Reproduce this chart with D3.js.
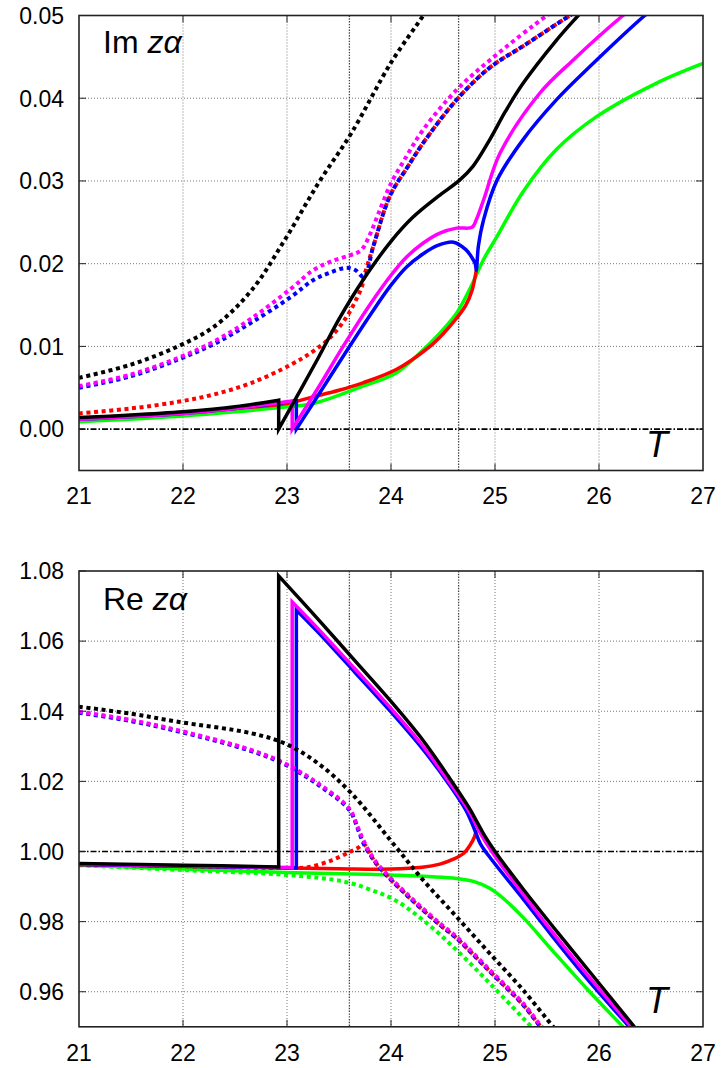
<!DOCTYPE html>
<html><head><meta charset="utf-8">
<script src="https://cdn.jsdelivr.net/npm/d3@7"></script>
<style>body{margin:0;background:#fff}svg{display:block}</style>
</head><body><svg id="c" width="722" height="1068"></svg>
<script>
// ---------- tick labels ----------
const xTicks = [21, 22, 23, 24, 25, 26, 27];
const imTicks = [0.00, 0.01, 0.02, 0.03, 0.04, 0.05];
const reTicks = [0.96, 0.98, 1.00, 1.02, 1.04, 1.06, 1.08];
const markerT = [23.6, 24.65];

// ---------- Im z alpha  ([T, value]) ----------
const imBlackSolid = [[21,0.0014],[21.5,0.0017],[22,0.0021],[22.5,0.0027],[22.92,0.0035],[22.92,0.0000],[23.3,0.0086],[23.5,0.0133],[23.73,0.0180],[24.0,0.0227],[24.21,0.0256],[24.45,0.0281],[24.66,0.0301],[24.79,0.0318],[24.95,0.0350],[25.1,0.0384],[25.27,0.0418],[25.59,0.0470],[25.80,0.0500],[25.9,0.0514]];
const imMagentaSolid = [[21,0.0012],[22,0.0019],[22.5,0.0025],[23.05,0.0034],[23.05,0.0000],[23.3,0.0050],[23.54,0.0100],[23.8,0.0151],[24.0,0.0186],[24.15,0.0208],[24.31,0.0225],[24.47,0.0237],[24.63,0.0243],[24.78,0.0244],[24.82,0.0253],[24.89,0.0277],[25.05,0.0334],[25.43,0.0406],[25.75,0.0446],[26.23,0.0500],[26.35,0.0512]];
const imBlueSolid = [[21,0.0012],[22,0.0019],[22.5,0.0025],[23.09,0.0034],[23.09,0.0000],[23.3,0.0041],[23.54,0.0088],[23.8,0.0138],[24.0,0.0174],[24.15,0.0196],[24.31,0.0212],[24.45,0.0222],[24.6,0.0226],[24.72,0.0217],[24.78,0.0207],[24.81,0.0200],[24.82,0.0192],[24.84,0.0221],[24.89,0.0253],[25.02,0.0301],[25.27,0.0350],[25.59,0.0398],[25.91,0.0438],[26.44,0.0500],[26.55,0.0511]];
const imRedSolid = [[21,0.0013],[22,0.0020],[22.5,0.0025],[23.0,0.0031],[23.25,0.0039],[23.5,0.0047],[23.73,0.0056],[24.05,0.0072],[24.375,0.0100],[24.5,0.0115],[24.63,0.0134],[24.72,0.0150],[24.78,0.0168],[24.82,0.0192]];
const imGreenSolid = [[21,0.0009],[22,0.0016],[22.5,0.0021],[23.0,0.0027],[23.25,0.0031],[23.73,0.0052],[24.05,0.0068],[24.31,0.0096],[24.47,0.0116],[24.63,0.0140],[24.76,0.0170],[24.89,0.0205],[25.02,0.0233],[25.27,0.0287],[25.59,0.0338],[25.98,0.0378],[26.55,0.0418],[27.0,0.0442]];
const imBlackDot = [[21,0.0062],[21.5,0.0078],[21.95,0.0100],[22.3,0.0124],[22.66,0.0168],[22.98,0.0229],[23.3,0.0297],[23.62,0.0358],[24.0,0.0443],[24.31,0.0500],[24.36,0.0510]];
const imMagentaDot = [[21,0.0052],[21.5,0.0066],[21.95,0.0086],[22.3,0.0106],[22.66,0.0134],[23.04,0.0170],[23.25,0.0192],[23.43,0.0203],[23.6,0.0210],[23.71,0.0216],[23.8,0.0236],[23.88,0.0261],[24.0,0.0297],[24.15,0.0330],[24.31,0.0362],[24.63,0.0410],[24.95,0.0446],[25.5,0.0500],[25.6,0.0508]];
const imBlueDot = [[21,0.0050],[21.5,0.0064],[21.95,0.0084],[22.3,0.0103],[22.66,0.0129],[23.04,0.0160],[23.25,0.0180],[23.41,0.0189],[23.57,0.0195],[23.66,0.0192],[23.74,0.0184],[23.83,0.0221],[23.99,0.0282],[24.15,0.0315],[24.31,0.0346],[24.63,0.0398],[24.95,0.0437],[25.27,0.0463],[25.72,0.0500],[25.8,0.0506]];
const imRedDot = [[21,0.0019],[21.5,0.0025],[21.95,0.0033],[22.3,0.0042],[22.66,0.0056],[23.04,0.0078],[23.25,0.0094],[23.41,0.0110],[23.57,0.0135],[23.67,0.0158],[23.72,0.0172],[23.74,0.0184],[23.83,0.0221],[23.99,0.0282],[24.15,0.0315],[24.31,0.0346],[24.63,0.0398],[24.95,0.0437],[25.27,0.0463],[25.72,0.0500],[25.8,0.0506]];

// ---------- Re z alpha ([T, value]) ----------
const reBlackSolid = [[21,0.9966],[22,0.9961],[22.92,0.9956],[22.92,1.0786],[23.3,1.0662],[23.65,1.0545],[24.0,1.0428],[24.3,1.0320],[24.55,1.0215],[24.75,1.0125],[24.9,1.0045],[25.0,1.0000],[25.27,0.9893],[25.6,0.9770],[25.91,0.9657],[26.34,0.9500],[26.4,0.9478]];
const reMagentaSolid = [[21,0.9964],[22,0.9959],[23.05,0.9954],[23.05,1.0712],[23.3,1.0635],[23.65,1.0522],[24.0,1.0408],[24.3,1.0303],[24.55,1.0202],[24.75,1.0115],[24.86,1.0052],[24.98,0.9995],[25.27,0.9878],[25.6,0.9752],[25.91,0.9640],[26.31,0.9500],[26.37,0.9478]];
const reBlueSolid = [[21,0.9963],[22,0.9958],[23.09,0.9953],[23.09,1.0689],[23.3,1.0625],[23.65,1.0512],[24.0,1.0398],[24.3,1.0294],[24.55,1.0195],[24.72,1.0118],[24.8,1.0065],[24.86,1.0022],[24.98,0.9972],[25.27,0.9865],[25.6,0.9740],[25.91,0.9628],[26.29,0.9500],[26.35,0.9478]];
const reRedSolid = [[21,0.9963],[22,0.9958],[23,0.9953],[23.5,0.9951],[24,0.9950],[24.3,0.9955],[24.47,0.9964],[24.6,0.9978],[24.7,0.9995],[24.76,1.0018],[24.8,1.0040],[24.82,1.0060]];
const reGreenSolid = [[21,0.9961],[22,0.9950],[23,0.9940],[24,0.9933],[24.63,0.9923],[24.8,0.9914],[24.95,0.9895],[25.1,0.9861],[25.27,0.9812],[25.59,0.9705],[25.91,0.9600],[26.23,0.9500],[26.3,0.9478]];
const reBlackDot = [[21,1.0413],[21.5,1.0393],[21.95,1.0370],[22.66,1.0337],[22.98,1.0308],[23.30,1.0251],[23.62,1.0166],[24.0,1.0030],[24.31,0.9918],[24.63,0.9814],[24.95,0.9709],[25.27,0.9605],[25.56,0.9500],[25.62,0.9480]];
const reMagentaDot = [[21,1.0399],[21.5,1.0375],[21.95,1.0346],[22.66,1.0289],[22.98,1.0251],[23.30,1.0194],[23.6,1.0122],[23.68,1.0070],[23.73,1.0035],[23.8,0.9995],[23.89,0.9958],[24.15,0.9880],[24.47,0.9795],[24.63,0.9757],[24.95,0.9662],[25.27,0.9567],[25.45,0.9500],[25.5,0.9485]];
const reBlueDot = [[21,1.0396],[21.5,1.0372],[21.95,1.0343],[22.66,1.0286],[22.98,1.0248],[23.30,1.0190],[23.6,1.0118],[23.68,1.0065],[23.74,1.0020],[23.8,0.9991],[23.89,0.9954],[24.15,0.9876],[24.47,0.9791],[24.63,0.9753],[24.95,0.9658],[25.27,0.9563],[25.44,0.9500],[25.5,0.9482]];
const reRedDot = [[21,0.9963],[22,0.9958],[23,0.9953],[23.2,0.9955],[23.43,0.9975],[23.6,0.9998],[23.68,1.0010],[23.74,1.0020],[23.8,0.9991],[23.89,0.9954],[24.15,0.9876],[24.47,0.9791],[24.63,0.9753],[24.95,0.9658],[25.27,0.9563],[25.44,0.9500],[25.5,0.9482]];
const reGreenDot = [[21,0.9961],[22,0.9947],[23,0.9933],[23.55,0.9914],[23.81,0.9890],[24.04,0.9861],[24.31,0.9804],[24.63,0.9719],[24.95,0.9624],[25.35,0.9500],[25.4,0.9485]];

const COL = {black:"#000000", magenta:"#ff00ff", blue:"#0000ff", red:"#ff0000", green:"#00ff00"};

const svg = d3.select("#c");
const FONT = "'Liberation Sans', Arial, Helvetica, sans-serif";

function panel(cfg){
  const x = d3.scaleLinear().domain([21,27]).range([79,703]);
  const y = d3.scaleLinear().domain(cfg.ydom).range(cfg.yrange);
  const g = svg.append("g");
  const [x0,x1] = x.range();
  const yb = y.range()[0], yt = y.range()[1];
  const clipId = "clip"+cfg.id;
  svg.append("clipPath").attr("id",clipId).append("rect")
     .attr("x",x0).attr("y",yt).attr("width",x1-x0).attr("height",yb-yt);

  // grid
  const grid = g.append("g").attr("stroke","#777").attr("stroke-width",1).attr("stroke-dasharray","1,2");
  xTicks.slice(1,-1).forEach(t=>{
    grid.append("line").attr("x1",x(t)).attr("x2",x(t)).attr("y1",yt).attr("y2",yb);
  });
  cfg.yticks.forEach(t=>{
    if (Math.abs(t-cfg.zero)<1e-9) return;
    if (y(t) <= yt+1 || y(t) >= yb-1) return;
    grid.append("line").attr("x1",x0).attr("x2",x1).attr("y1",y(t)).attr("y2",y(t));
  });
  // marker lines
  const mk = g.append("g").attr("stroke","#444").attr("stroke-width",1.3).attr("stroke-dasharray","1.4,1.4");
  markerT.forEach(t=>{
    mk.append("line").attr("x1",x(t)).attr("x2",x(t)).attr("y1",yt).attr("y2",yb);
  });
  // zero/unit reference (dash-dot)
  g.append("line").attr("x1",x0).attr("x2",x1).attr("y1",y(cfg.zero)).attr("y2",y(cfg.zero))
    .attr("stroke","#000").attr("stroke-width",1.6).attr("stroke-dasharray","6,2,1.5,2");

  // series: smooth pieces, straight vertical jumps
  const smooth = d3.line().x(d=>x(d[0])).y(d=>y(d[1])).curve(d3.curveCatmullRom.alpha(0.5));
  function pathFor(data){
    const pieces = [[data[0]]];
    for (let i=1;i<data.length;i++){
      if (data[i][0] === data[i-1][0]) pieces.push([data[i]]);
      else pieces[pieces.length-1].push(data[i]);
    }
    let d = "";
    pieces.forEach((p,k)=>{
      let s = smooth(p.length>1 ? p : [p[0],p[0]]);
      if (k>0) s = "L" + s.slice(1);
      d += s;
    });
    return d;
  }
  const sg = g.append("g").attr("clip-path",`url(#${clipId})`);
  cfg.series.forEach(s=>{
    sg.append("path").attr("d",pathFor(s.data)).attr("fill","none")
      .attr("stroke",COL[s.color])
      .attr("stroke-width", s.dot ? 4 : 3.5)
      .attr("stroke-dasharray", s.dot ? "4,3.6" : null)
      .attr("stroke-linejoin","miter").attr("stroke-miterlimit",4);
  });

  // ticks (inward, mirrored)
  const tk = g.append("g").attr("stroke","#222").attr("stroke-width",1);
  xTicks.slice(1,-1).forEach(t=>{
    tk.append("line").attr("x1",x(t)).attr("x2",x(t)).attr("y1",yb).attr("y2",yb-7);
    tk.append("line").attr("x1",x(t)).attr("x2",x(t)).attr("y1",yt).attr("y2",yt+7);
  });
  cfg.yticks.forEach(t=>{
    tk.append("line").attr("x1",x0).attr("x2",x0+7).attr("y1",y(t)).attr("y2",y(t));
    tk.append("line").attr("x1",x1).attr("x2",x1-7).attr("y1",y(t)).attr("y2",y(t));
  });
  // border
  g.append("rect").attr("x",x0).attr("y",yt).attr("width",x1-x0).attr("height",yb-yt)
    .attr("fill","none").attr("stroke","#222").attr("stroke-width",1.6);

  // tick labels
  const lab = g.append("g").attr("font-family",FONT).attr("font-size",23).attr("fill","#000");
  xTicks.forEach(t=>{
    lab.append("text").attr("x",x(t)).attr("y",cfg.xlabY).attr("text-anchor","middle").text(t);
  });
  cfg.yticks.forEach(t=>{
    lab.append("text").attr("x",64).attr("y",y(t)).attr("dy","0.36em").attr("text-anchor","end")
      .text(t.toFixed(2));
  });

  // title
  const tt = g.append("text").attr("x",103).attr("y",cfg.titleY).attr("font-family",FONT)
     .attr("font-size",32).attr("fill","#000");
  tt.append("tspan").text(cfg.title+" ");
  tt.append("tspan").attr("font-style","italic").text("zα");
  // T label
  g.append("text").attr("x",657).attr("y",cfg.TY).attr("text-anchor","middle")
    .attr("font-family",FONT).attr("font-size",36).attr("font-style","italic").text("T");
}

panel({
  id:"im", ydom:[-0.005,0.05], yrange:[470.5,15.5], yticks:imTicks, zero:0,
  xlabY:504, titleY:53, TY:457, title:"Im",
  series:[
    {data:imGreenSolid,color:"green"},
    {data:imRedDot,color:"red",dot:true},
    {data:imRedSolid,color:"red"},
    {data:imBlueDot,color:"blue",dot:true},
    {data:imBlueSolid,color:"blue"},
    {data:imMagentaDot,color:"magenta",dot:true},
    {data:imMagentaSolid,color:"magenta"},
    {data:imBlackDot,color:"black",dot:true},
    {data:imBlackSolid,color:"black"}
  ]
});

panel({
  id:"re", ydom:[0.95,1.08], yrange:[1026.8,571], yticks:reTicks, zero:1.0,
  xlabY:1061, titleY:610, TY:1013, title:"Re",
  series:[
    {data:reGreenDot,color:"green",dot:true},
    {data:reGreenSolid,color:"green"},
    {data:reRedDot,color:"red",dot:true},
    {data:reRedSolid,color:"red"},
    {data:reBlueDot,color:"blue",dot:true},
    {data:reBlueSolid,color:"blue"},
    {data:reMagentaDot,color:"magenta",dot:true},
    {data:reMagentaSolid,color:"magenta"},
    {data:reBlackDot,color:"black",dot:true},
    {data:reBlackSolid,color:"black"}
  ]
});
</script></body></html>
